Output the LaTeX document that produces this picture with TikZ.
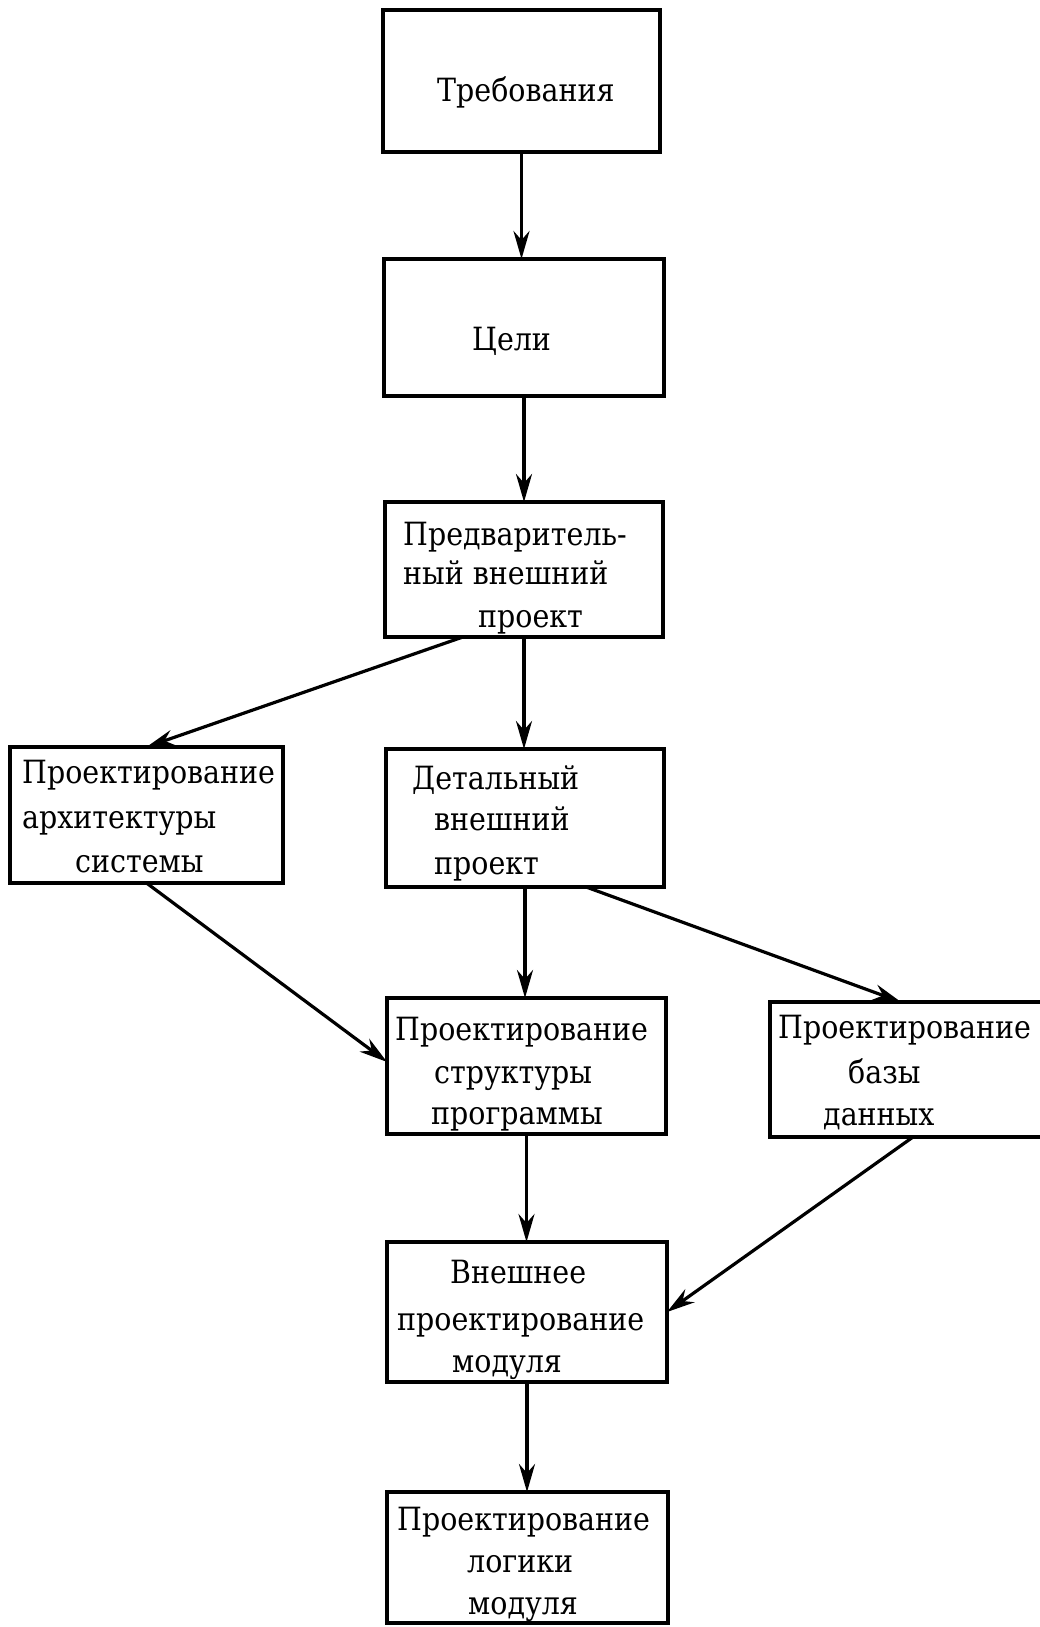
\documentclass[tikz,border=0pt]{standalone}
\usepackage{fontspec}
\newfontfamily\typewr[FakeStretch=0.89]{DejaVu Serif}
\usetikzlibrary{arrows.meta,calc}

\tikzset{
  box/.style={draw, line width=4.5pt, inner sep=0pt, outer sep=0pt},
  lbl/.style={anchor=base west, inner sep=0pt, font=\typewr\fontsize{32}{36}\selectfont},
  arr/.style={line width=3.2pt, -{Stealth[length=28pt,width=16pt,inset=9pt]}}
}

\begin{document}
\begin{tikzpicture}[x=1pt,y=-1pt]
\useasboundingbox (0,0) rectangle (1040,1627);
\fill[white] (0,0) rectangle (1040,1627);

% boxes (centre, width, height)
\node[box, minimum width=277pt, minimum height=142pt] (b1) at (521.5,81) {};
\node[box, minimum width=280pt, minimum height=137pt] (b2) at (524,327.5) {};
\node[box, minimum width=278pt, minimum height=135pt] (b3) at (524,569.5) {};
\node[box, minimum width=273pt, minimum height=136pt] (b4) at (146.5,815) {};
\node[box, minimum width=278pt, minimum height=138pt] (b5) at (525,818) {};
\node[box, minimum width=279pt, minimum height=136pt] (b6) at (526.5,1066) {};
\node[box, minimum width=280pt, minimum height=135pt] (b7) at (910,1069.5) {};
\node[box, minimum width=280pt, minimum height=140pt] (b8) at (527,1312) {};
\node[box, minimum width=281pt, minimum height=131pt] (b9) at (527.5,1557.5) {};

% box texts, line by line
\foreach \txt/\x/\y [count=\i] in {
  Требования/437/102,
  Цели/472/350,
  Предваритель-/403/545, ный внешний/403/584, проект/478/627,
  Проектирование/22/783, архитектуры/22/828, системы/75/872,
  Детальный/412/789, внешний/434/830, проект/434/874,
  Проектирование/395/1040, структуры/434/1083, программы/431/1124,
  Проектирование/778/1038, базы/848/1083, данных/823/1125,
  Внешнее/450/1283, проектирование/397/1330, модуля/452/1372,
  Проектирование/397/1530, логики/467/1572, модуля/468/1614}
  \node[lbl] (t\i) at (\x,\y) {\txt};

% connectors
\draw[arr] (b1.south) -- (b1.south |- b2.north);
\draw[arr] (b2.south) -- (b2.south |- b3.north);
\draw[arr] ($(b3.south west)!0.28!(b3.south east)$) -- (b4.north);
\draw[arr] (b3.south) -- (b3.south |- b5.north);
\draw[arr] (b4.south) -- ($(b6.north west)!0.47!(b6.south west)$);
\draw[arr] ($(b5.south west)!0.72!(b5.south east)$) -- ($(b7.north west)+(131,0)$);
\draw[arr] (b5.south) -- (b5.south |- b6.north);
\draw[arr] (b6.south) -- (b6.south |- b8.north);
\draw[arr] ($(b7.south west)+(143,0)$) -- (b8.east);
\draw[arr] (b8.south) -- (b8.south |- b9.north);
\end{tikzpicture}
\end{document}
